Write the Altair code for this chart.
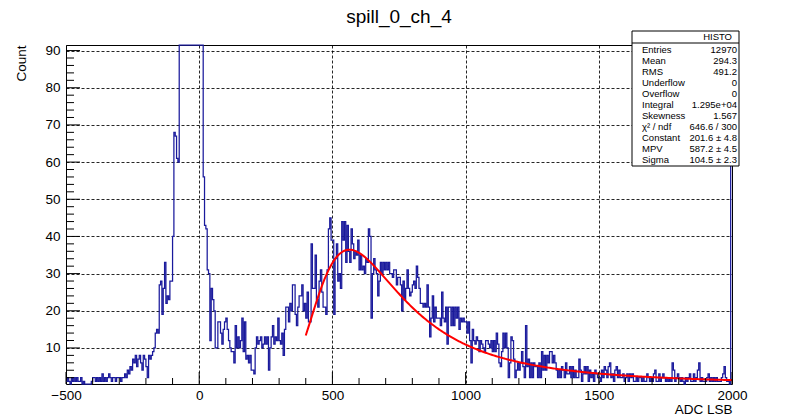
import numpy as np
import pandas as pd
import altair as alt

# Histogram binning: 500 bins of 5 ADC counts starting at -500
BIN_LO = -500
BIN_W = 5
counts = [
    1, 2, 1, 0, 2, 1, 2, 1, 2, 1,
    1, 2, 0, 1, 0, 0, 0, 0, 0, 1,
    2, 2, 1, 2, 1, 2, 1, 3, 1, 2,
    1, 2, 3, 2, 1, 2, 2, 1, 2, 2,
    2, 1, 2, 2, 3, 2, 4, 3, 5, 4,
    7, 6, 8, 5, 7, 8, 6, 4, 8, 7,
    5, 2, 8, 7, 8, 9, 10, 14, 15, 14,
    27, 28, 19, 26, 33, 22, 24, 23, 28, 28,
    40, 68, 67, 61, 60, 110, 240, 450, 700, 880,
    940, 860, 690, 500, 340, 230, 165, 130, 115, 108,
    102, 99, 95, 56, 43, 42, 31, 30, 12, 26,
    23, 20, 10, 10, 17, 17, 14, 11, 15, 17,
    18, 15, 12, 10, 9, 9, 6, 16, 10, 13,
    10, 12, 18, 9, 17, 7, 8, 6, 8, 4,
    4, 3, 10, 13, 11, 12, 13, 10, 11, 13,
    11, 13, 4, 10, 13, 16, 11, 13, 12, 18,
    12, 11, 14, 8, 15, 21, 21, 17, 22, 20,
    27, 27, 19, 16, 21, 24, 24, 27, 20, 22,
    18, 25, 17, 17, 38, 26, 26, 35, 23, 21,
    28, 31, 25, 21, 21, 19, 31, 42, 45, 39,
    39, 19, 34, 38, 28, 30, 26, 44, 39, 44,
    33, 43, 36, 33, 42, 38, 34, 36, 35, 39,
    31, 35, 31, 32, 30, 34, 33, 42, 40, 18,
    30, 34, 31, 30, 24, 28, 33, 30, 33, 31,
    33, 31, 33, 30, 30, 29, 31, 31, 27, 29,
    29, 27, 20, 28, 23, 26, 31, 26, 24, 25,
    27, 28, 26, 32, 29, 26, 22, 22, 21, 22,
    21, 27, 21, 13, 18, 24, 17, 21, 18, 18,
    18, 16, 25, 18, 17, 21, 11, 21, 21, 16,
    21, 16, 21, 18, 21, 15, 18, 17, 18, 17,
    17, 14, 17, 12, 6, 15, 12, 11, 13, 12,
    9, 12, 11, 10, 9, 12, 12, 11, 10, 12,
    9, 12, 9, 14, 11, 6, 5, 9, 14, 10,
    14, 10, 2, 6, 13, 12, 7, 2, 4, 6,
    4, 6, 9, 5, 2, 16, 5, 7, 2, 6,
    2, 6, 5, 5, 2, 6, 2, 9, 4, 8,
    4, 8, 6, 9, 9, 6, 8, 6, 4, 2,
    4, 2, 5, 4, 2, 6, 3, 3, 5, 2,
    5, 2, 4, 2, 2, 7, 4, 1, 3, 5,
    3, 5, 1, 4, 2, 3, 1, 4, 3, 2,
    2, 1, 4, 2, 5, 4, 2, 5, 6, 2,
    3, 1, 4, 5, 2, 4, 2, 2, 3, 1,
    2, 3, 1, 3, 2, 3, 1, 1, 2, 1,
    2, 2, 1, 2, 1, 1, 3, 2, 1, 2,
    1, 3, 4, 1, 1, 3, 1, 2, 3, 2,
    1, 2, 1, 2, 1, 6, 4, 1, 2, 3,
    2, 1, 2, 1, 0, 2, 1, 2, 3, 1,
    1, 3, 1, 2, 4, 6, 1, 2, 1, 1,
    1, 2, 3, 1, 2, 1, 2, 1, 2, 1,
    1, 1, 2, 3, 5, 2, 1, 1, 0, 150,
]

# Landau fit result and its range
fit_const, fit_mpv, fit_sigma = 201.6, 587.2, 104.5
fit_range = (400, 2000)

# Statistics box
stat_names = ["Entries", "Mean", "RMS", "Underflow", "Overflow", "Integral",
              "Skewness", "\u03c7\u00b2 / ndf", "Constant", "MPV", "Sigma"]
stat_values = ["12970", "294.3", "491.2", "0", "0", "1.295e+04",
               "1.567", "646.6 / 300", "201.6 \u00b1 4.8", "587.2 \u00b1 4.5",
               "104.5 \u00b1 2.3"]

x_major = [-500, 0, 500, 1000, 1500, 2000]
x_minor = [v for v in range(-400, 2000, 100) if v % 500]
y_major = [10, 20, 30, 40, 50, 60, 70, 80, 90]
y_minor = [v for v in range(2, 91, 2) if v % 10]

X_DOMAIN = [-500, 2000]
Y_DOMAIN = [0.3, 91.5]
W, H = 666, 339
FONT = "Liberation Sans"
HIST_BLUE = "#1a1a9c"

# step outline: each bin's left edge, plus the closing right edge
edges = BIN_LO + BIN_W * np.arange(len(counts) + 1)
hist_df = pd.DataFrame({"adc": edges, "count": counts + [counts[-1]]})


def landau_density(lam):
    """Standard Landau density (same convention as TMath::Landau)."""
    t = np.linspace(1e-12, 50.0, 25001)
    out = np.empty_like(lam, dtype=float)
    base = -t * np.log(t)
    sin_t = np.sin(np.pi * t)
    for i, l in enumerate(lam):
        out[i] = np.trapezoid(np.exp(base - l * t) * sin_t, t) / np.pi
    return out


fit_x = np.linspace(fit_range[0], fit_range[1], 321)
fit_y = fit_const * landau_density((fit_x - fit_mpv) / fit_sigma)
fit_df = pd.DataFrame({"adc": fit_x, "count": fit_y})

x_scale = alt.Scale(domain=X_DOMAIN, nice=False, zero=False)
y_scale = alt.Scale(domain=Y_DOMAIN, nice=False, zero=False, clamp=True)

x_axis = alt.Axis(
    values=x_major, format="d", grid=True, gridDash=[3, 2],
    gridColor="#000000", gridWidth=1, gridOpacity=0.85, ticks=False,
    domain=False, labelFont=FONT, labelFontSize=13.5, labelColor="#000000",
    labelPadding=4, labelFlush=False, labelOverlap=False,
    title="ADC LSB", titleFont=FONT, titleFontSize=13.5,
    titleFontWeight="normal", titleColor="#000000", titleAnchor="end",
    titleAlign="right", titleBaseline="alphabetic", titleX=W, titleY=29,
)
y_axis = alt.Axis(
    values=y_major, format="d", grid=True, gridDash=[3, 2],
    gridColor="#000000", gridWidth=1, gridOpacity=0.85, ticks=False,
    domain=False, labelFont=FONT, labelFontSize=13.5, labelColor="#000000",
    labelPadding=6, labelFlush=False, labelOverlap=False,
    title="Count", titleFont=FONT, titleFontSize=13.5,
    titleFontWeight="normal", titleColor="#000000", titleAngle=-90,
    titleAlign="right", titleBaseline="alphabetic", titleX=-41, titleY=0,
)

X = lambda: alt.X("adc:Q", scale=x_scale, axis=x_axis)
Y = lambda: alt.Y("count:Q", scale=y_scale, axis=y_axis)

hist = alt.Chart(hist_df).mark_line(
    interpolate="step-after", color=HIST_BLUE, strokeWidth=1.25
).encode(x=X(), y=Y())

fit = alt.Chart(fit_df).mark_line(color="#ff0000", strokeWidth=2).encode(
    x=X(), y=Y()
)

# inward-pointing tick marks along the bottom and left frame edges
xt_major = alt.Chart(pd.DataFrame({"adc": x_major})).mark_rule(
    color="#000000", strokeWidth=1
).encode(x=X(), y=alt.value(H), y2=alt.value(H - 12))
xt_minor = alt.Chart(pd.DataFrame({"adc": x_minor})).mark_rule(
    color="#000000", strokeWidth=1
).encode(x=X(), y=alt.value(H), y2=alt.value(H - 6))
yt_major = alt.Chart(pd.DataFrame({"count": y_major})).mark_rule(
    color="#000000", strokeWidth=1
).encode(y=Y(), x=alt.value(0), x2=alt.value(14))
yt_minor = alt.Chart(pd.DataFrame({"count": y_minor})).mark_rule(
    color="#000000", strokeWidth=1
).encode(y=Y(), x=alt.value(0), x2=alt.value(8))

one = pd.DataFrame({"k": [0]})
BOX_L, BOX_R, BOX_T, BOX_B = 566, 673, -14, 121

stats_box = alt.Chart(one).mark_rect(
    fill="#ffffff", stroke="#000000", strokeWidth=1
).encode(x=alt.value(BOX_L), x2=alt.value(BOX_R),
         y=alt.value(BOX_T), y2=alt.value(BOX_B))
stats_sep = alt.Chart(one).mark_rule(color="#000000", strokeWidth=1).encode(
    x=alt.value(BOX_L), x2=alt.value(BOX_R), y=alt.value(-2)
)
stats_head = alt.Chart(one).mark_text(
    text="HISTO", font=FONT, fontSize=9.5, align="right",
    baseline="alphabetic", color="#000000"
).encode(x=alt.value(666), y=alt.value(-5))
stats_lbl = alt.Chart(one).mark_text(
    text=stat_names, font=FONT, fontSize=9.5, align="left",
    baseline="alphabetic", lineHeight=11, color="#000000"
).encode(x=alt.value(576), y=alt.value(8))
stats_val = alt.Chart(one).mark_text(
    text=stat_values, font=FONT, fontSize=9.5, align="right",
    baseline="alphabetic", lineHeight=11, color="#000000"
).encode(x=alt.value(671), y=alt.value(8))

title = alt.Chart(one).mark_text(
    text="spill_0_ch_4", font=FONT, fontSize=19, align="center",
    baseline="alphabetic", color="#000000"
).encode(x=alt.value(W / 2), y=alt.value(-22))

chart = alt.layer(
    hist, fit, xt_major, xt_minor, yt_major, yt_minor,
    stats_box, stats_sep, stats_head, stats_lbl, stats_val, title,
).properties(
    width=W, height=H,
    padding={"left": 66, "top": 45, "right": 796 - 66 - W, "bottom": 419 - 45 - H},
    autosize=alt.AutoSizeParams(type="none"),
    background="#ffffff",
).configure_view(stroke="#000000", strokeWidth=1)

chart.save("out.html", embed_options={"renderer": "svg", "actions": False})
